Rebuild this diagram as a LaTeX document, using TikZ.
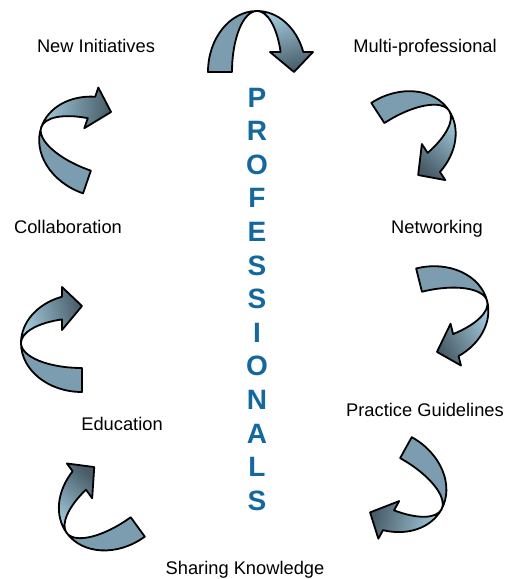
\documentclass[tikz,border=0pt]{standalone}
\usepackage{fontspec}
\setmainfont{Liberation Sans}
\usepackage{xcolor}
\usepackage{tikz}
\usetikzlibrary{positioning}
\pgfdeclarelayer{nodelayer}
\pgfdeclarelayer{edgelayer}
\pgfsetlayers{nodelayer,edgelayer,main}
\definecolor{ribbonlight}{RGB}{163,203,222}
\definecolor{ribbondark}{RGB}{72,92,104}
\definecolor{ribbonback}{RGB}{124,157,176}
\definecolor{letterblue}{RGB}{20,104,158}
\tikzset{
    none/.style = {inner sep=0pt},
    caption/.style = {inner sep=0pt, anchor=base, font=\fontsize{18.3}{22}\selectfont},
    letter/.style = {inner sep=0pt, anchor=base, text=letterblue, font=\fontsize{28}{30}\selectfont\bfseries},
    ribbon/.style = {draw=black, line width=1.8pt, line join=round},
    pics/twist/.style = {code = {
        % back half of the ribbon
        \filldraw[ribbon, fill=ribbonback, rotate=#1] (-49,0)
            arc[start angle=180, end angle=90, x radius=49, y radius=61]
            arc[start angle=90, end angle=180, x radius=25, y radius=61] -- cycle;
        % front half with the head
        \shadedraw[ribbon, top color=ribbonlight, bottom color=ribbondark, shading angle=#1+15, rotate=#1] (0,61)
            arc[start angle=90, end angle=19.1, x radius=49, y radius=61]
            -- (56,20) -- (37,0) -- (13,20) -- (23.6,20)
            arc[start angle=19.1, end angle=90, x radius=25, y radius=61] -- cycle;
    }}
}
\begin{document}
\begin{tikzpicture}[x=1pt, y=1pt]
    \useasboundingbox (0,0) rectangle (512,-579);
    \begin{pgfonlayer}{nodelayer}
        \node [style=caption] (0) at (96, -52) {New Initiatives};
        \node [style=caption] (1) at (425, -52) {Multi-professional};
        \node [style=caption] (2) at (437, -233) {Networking};
        \node [style=caption] (3) at (425, -416) {Practice Guidelines};
        \node [style=caption] (4) at (245, -574) {Sharing Knowledge};
        \node [style=caption] (5) at (122, -430) {Education};
        \node [style=caption] (6) at (68, -233) {Collaboration};
        % the word down the middle
        \foreach \ch [count=\i from 0] in {P,R,O,F,E,S,S,I,O,N,A,L,S}
            \node [style=letter] (l\i) at (257, {-(107+33.6*\i)}) {\ch};
    \end{pgfonlayer}
    \begin{pgfonlayer}{edgelayer}
        % twisted arrows, clockwise round the word
        \pic at (257, -72) {twist=0};
        \pic at (398, -144) {twist=-57};
        \pic at (428, -316) {twist=-76};
        \pic at (388, -480) {twist=-119};
        \pic at (116, -497) {twist=126};
        \pic at (82, -343) {twist=90};
        \pic at (99, -147) {twist=71};
    \end{pgfonlayer}
\end{tikzpicture}
\end{document}
